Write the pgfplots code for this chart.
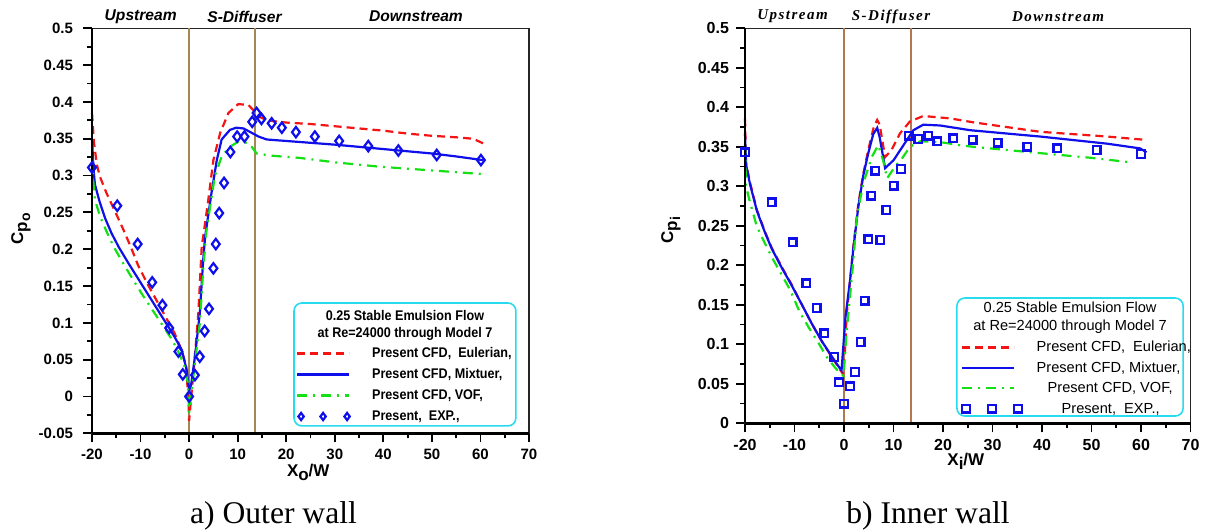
\documentclass[border=0pt]{standalone}
\usepackage{fontspec}
\setmainfont{Liberation Sans}
\newfontfamily\serifspaced[LetterSpace=10]{Liberation Serif}
\newfontfamily\seriffont{Liberation Serif}
\newfontfamily\narrowfont[FakeStretch=0.9]{Liberation Sans}
\usepackage{pgfplots}
\pgfplotsset{compat=1.18}

\definecolor{cred}{RGB}{245,20,20}
\definecolor{cblue}{RGB}{15,15,235}
\definecolor{cgreen}{RGB}{20,225,20}
\definecolor{ctanL}{RGB}{165,135,85}
\definecolor{ctanR}{RGB}{180,120,80}
\definecolor{ccyan}{RGB}{40,220,240}

\pgfplotsset{
  mybase/.style={
    scale only axis, clip=false,
    axis line style={black!85, line width=0.7pt},
    tick align=outside, tick pos=left,
    major tick length=4.5pt, minor tick length=2.5pt,
    tick style={black, line width=0.9pt},
    minor x tick num=1, minor y tick num=1,
    xmin=-20, xmax=70,
    xtick={-20,-10,...,70},
    xticklabels={-20,-10,0,10,20,30,40,50,60,70},
    legend cell align=left,
  },
  eul/.style={cred, line width=1.1pt, dash pattern=on 4pt off 2.5pt,
    legend image code/.code={\draw[##1] (0pt,0pt) -- (26pt,0pt);}},
  mix/.style={cblue, line width=1.1pt,
    legend image code/.code={\draw[##1] (0pt,0pt) -- (26pt,0pt);}},
  vof/.style={cgreen, line width=1.1pt, dash pattern=on 5pt off 3pt on 1pt off 3pt,
    legend image code/.code={\draw[##1] (0pt,0pt) -- (26pt,0pt);}},
  expL/.style={only marks, mark=diamond, mark size=2.6pt, cblue,
    mark options={line width=1.1pt, fill=none},
    legend image code/.code={\draw[##1, only marks, mark size=1.8pt] plot coordinates {(2pt,0pt) (13pt,0pt) (25pt,0pt)};}},
  expR/.style={only marks, mark=square, mark size=1.9pt, cblue,
    mark options={line width=1.2pt, fill=none},
    legend image code/.code={\draw[##1, only marks] plot coordinates {(2pt,0pt) (15pt,0pt) (28pt,0pt)};}},
}

\begin{document}
\begin{tikzpicture}
\path (0,0) rectangle (604pt,265.5pt);

% ---------------- Left: outer wall ----------------
\begin{axis}[mybase,
  at={(46pt,48.85pt)}, anchor=south west,
  width=218.5pt, height=202.5pt,
  ymin=-0.05, ymax=0.5,
  ytick={-0.05,0,0.05,0.1,0.15,0.2,0.25,0.3,0.35,0.4,0.45,0.5},
  yticklabels={-0.05,0,0.05,0.1,0.15,0.2,0.25,0.3,0.35,0.4,0.45,0.5},
  ticklabel style={font=\bfseries\fontsize{7.5}{8}\selectfont},
  yticklabel style={xshift=-1.5pt},
  legend style={at={(0.4668,0.2156)}, anchor=north west, draw=none, fill=none,
    inner sep=0pt, outer sep=0pt, row sep=3pt,
    font=\narrowfont\bfseries\fontsize{7}{8}\selectfont,
    nodes={inner sep=0pt, text height=6pt, text depth=1.5pt},
    /tikz/every odd column/.style={column sep=11pt}},
]
\draw[ccyan, line width=0.8pt, rounded corners=4pt, fill=white]
  (axis cs:21.6,-0.040) rectangle (axis cs:67.3,0.127);
\node[font=\narrowfont\bfseries\fontsize{7}{8.5}\selectfont, align=center]
  at (axis cs:44.45,0.0965) {0.25 Stable Emulsion Flow\\at Re=24000 through Model 7};

\addplot[ctanL, line width=0.9pt, forget plot] coordinates {(0,-0.05) (0,0.5)};
\addplot[ctanL, line width=0.9pt, forget plot] coordinates {(13.5,-0.05) (13.5,0.5)};

\addplot[eul] coordinates {
(-20,0.385) (-19.6,0.345) (-19,0.315) (-18.4,0.299) (-17,0.276) (-15.3,0.252)
(-13.5,0.226) (-12,0.203) (-10.5,0.178) (-8.5,0.152) (-6.5,0.128) (-4.5,0.104)
(-3,0.086) (-1.5,0.062) (-0.6,0.040) (-0.1,-0.01) (0,-0.033) (0.3,-0.01) (0.9,0.032)
(1.9,0.113) (2.6,0.204) (2.9,0.217) (3.95,0.267) (5.0,0.321) (6.4,0.358) (8.1,0.385)
(10.1,0.397) (12.2,0.396) (13.2,0.389) (14.5,0.380) (16,0.375) (20,0.372) (25,0.370)
(30,0.367) (35,0.364) (40,0.361) (45,0.357) (50,0.354) (55,0.352) (58.5,0.350) (60.8,0.343)};
\addlegendentry{Present CFD,\ \ Eulerian,}

\addplot[mix] coordinates {
(-20,0.350) (-19.7,0.310) (-19.4,0.288) (-18.5,0.266) (-17.3,0.242) (-16,0.222)
(-14.5,0.203) (-12.5,0.181) (-10.5,0.160) (-8.5,0.139) (-6.5,0.118) (-4.5,0.097)
(-3,0.081) (-1.5,0.063) (-0.5,0.036) (0,0.008) (0.4,0.015) (1.2,0.054) (2.2,0.113) (2.9,0.185)
(3.3,0.217) (4.6,0.276) (5.7,0.321) (6.7,0.349) (8.4,0.362) (9.7,0.365) (11.2,0.364)
(12.9,0.358) (14.3,0.353) (16,0.349) (20,0.347) (30,0.342) (40,0.336) (50,0.330)
(55,0.326) (60.5,0.321)};
\addlegendentry{Present CFD, Mixtuer,}

\addplot[vof] coordinates {
(-20,0.326) (-19.7,0.290) (-19.4,0.267) (-18.3,0.244) (-17,0.224) (-15.5,0.203)
(-13.5,0.180) (-11.5,0.158) (-9.5,0.137) (-7.5,0.117) (-5.5,0.097) (-3.5,0.077)
(-2,0.058) (-1,0.042) (-0.3,0.020) (0,-0.022) (0.2,-0.010) (1.2,0.045) (2.2,0.099) (2.9,0.172)
(3.6,0.227) (5.3,0.299) (6.7,0.326) (8.4,0.339) (10.1,0.346) (12.2,0.344) (12.9,0.339)
(13.9,0.330) (17,0.327) (22.8,0.324) (30,0.318) (39.3,0.312) (50,0.307) (60.5,0.302)};
\addlegendentry{Present CFD, VOF,}

\addplot[expL] coordinates {
(-20,0.311) (-14.8,0.259) (-10.6,0.207) (-7.6,0.155) (-5.5,0.124) (-4.1,0.093)
(-2.2,0.061) (-1.3,0.030) (0,0) (1.2,0.029) (2.2,0.054) (3.2,0.089) (4.1,0.119)
(5.0,0.174) (5.5,0.207) (6.2,0.249) (7.2,0.290) (8.5,0.332) (9.9,0.353) (11.4,0.353)
(13.0,0.373) (13.9,0.385) (14.9,0.377) (17.0,0.371) (19.1,0.365) (22.0,0.359)
(25.9,0.353) (30.9,0.347) (36.9,0.340) (43.1,0.334) (51.0,0.328) (60.1,0.321)};
\addlegendentry{Present,\ \ EXP.,}

\draw[black, line width=1.3pt] (rel axis cs:0,0) -- (rel axis cs:0,1);
\draw[black, line width=1.3pt] (rel axis cs:0,0) -- (rel axis cs:1,0);
\end{axis}

% ---------------- Right: inner wall ----------------
\begin{axis}[mybase,
  at={(372.5pt,53.85pt)}, anchor=south west,
  width=222.8pt, height=197.5pt,
  ymin=0, ymax=0.5,
  ytick={0,0.05,0.1,0.15,0.2,0.25,0.3,0.35,0.4,0.45,0.5},
  yticklabels={0,0.05,0.1,0.15,0.2,0.25,0.3,0.35,0.4,0.45,0.5},
  ticklabel style={font=\bfseries\fontsize{8}{9}\selectfont},
  legend style={at={(0.4843,0.2109)}, anchor=north west, draw=none, fill=none,
    inner sep=0pt, outer sep=0pt, row sep=2.7pt,
    font=\fontsize{7.3}{8}\selectfont,
    nodes={inner sep=0pt, text height=6pt, text depth=1.5pt},
    /tikz/every odd column/.style={column sep=7.5pt}},
]
\draw[ccyan, line width=0.8pt, rounded corners=4pt, fill=white]
  (axis cs:22.8,0.0092) rectangle (axis cs:68.5,0.1586);
\node[font=\fontsize{7.3}{9}\selectfont, align=center]
  at (axis cs:45.66,0.1334) {0.25 Stable Emulsion Flow\\at Re=24000 through Model 7};

\addplot[ctanR, line width=0.9pt, forget plot] coordinates {(0,0) (0,0.5)};
\addplot[ctanR, line width=0.9pt, forget plot] coordinates {(13.5,0) (13.5,0.5)};

\addplot[eul] coordinates {
(-20,0.386) (-19.8,0.330) (-19,0.305) (-17.6,0.270) (-16,0.243) (-14.6,0.222)
(-12.5,0.197) (-10.7,0.177) (-8.5,0.150) (-6.5,0.126) (-4.5,0.104) (-2.5,0.084)
(-1,0.070) (-0.2,0.062) (0.2,0.093) (0.5,0.135) (1.2,0.180) (1.9,0.225) (2.9,0.278)
(3.9,0.316) (4.9,0.346) (6.0,0.375) (6.7,0.384) (7.2,0.378) (7.6,0.363) (8.3,0.337)
(9.6,0.346) (11.3,0.367) (13.3,0.382) (16,0.389) (21.4,0.386) (26.1,0.381)
(39.6,0.369) (53.1,0.363) (60.5,0.359)};
\addlegendentry{Present CFD,\ \ Eulerian,}

\addplot[mix] coordinates {
(-20,0.367) (-19.8,0.328) (-19,0.303) (-17.6,0.269) (-16,0.242) (-14.6,0.221)
(-12.5,0.196) (-10.7,0.176) (-8.5,0.150) (-6.5,0.126) (-4.5,0.104) (-2.5,0.085)
(-1,0.071) (-0.5,0.067) (0.3,0.135) (1.2,0.180) (1.9,0.222) (2.9,0.275)
(3.9,0.314) (4.9,0.342) (5.9,0.366) (6.7,0.374) (7.2,0.362) (8.3,0.323)
(10.0,0.333) (12.0,0.352) (14.0,0.371) (16,0.378) (19.4,0.377) (25.5,0.371)
(39.6,0.363) (53.1,0.354) (59.8,0.348) (61.1,0.343)};
\addlegendentry{Present CFD, Mixtuer,}

\addplot[vof] coordinates {
(-20,0.354) (-19.8,0.300) (-19,0.280) (-17.6,0.249) (-16,0.228) (-14.3,0.207)
(-12.5,0.187) (-10.9,0.169) (-8.9,0.140) (-7,0.120) (-5,0.100) (-3.5,0.084)
(-2,0.072) (-0.8,0.063) (-0.1,0.060) (0.5,0.114) (1.2,0.160) (1.9,0.207) (2.6,0.262)
(3.9,0.304) (5.6,0.337) (6.9,0.352) (7.9,0.333) (8.7,0.310) (10.3,0.325) (11.7,0.335)
(13.3,0.350) (15.4,0.357) (19.4,0.356) (23.4,0.352) (26.1,0.350) (39.6,0.342)
(50,0.336) (58.4,0.330)};
\addlegendentry{\hspace*{5.5pt}Present CFD, VOF,}

\addplot[expR] coordinates {
(-20,0.343) (-14.6,0.280) (-10.4,0.229) (-7.6,0.177) (-5.5,0.146) (-4.0,0.114)
(-2.0,0.084) (-1.0,0.052) (0,0.025) (1.2,0.047) (2.2,0.065) (3.4,0.103) (4.2,0.155)
(4.9,0.233) (5.5,0.288) (6.3,0.320) (7.3,0.232) (8.5,0.270) (10.0,0.301) (11.5,0.322)
(13.1,0.364) (15.0,0.360) (17.0,0.364) (18.8,0.357) (22.1,0.361) (26.0,0.359)
(31.0,0.355) (37.0,0.350) (43.1,0.348) (51.0,0.346) (60.0,0.341)};
\addlegendentry{\hspace*{12.5pt}Present,\ \ EXP.,}

\draw[black, line width=1.3pt] (rel axis cs:0,0) -- (rel axis cs:0,1);
\draw[black, line width=1.3pt] (rel axis cs:0,0) -- (rel axis cs:1,0);
\end{axis}

% ---------------- Labels ----------------
\node[font=\bfseries\itshape\fontsize{7.8}{9}\selectfont] at (70.35pt,257.2pt) {Upstream};
\node[font=\bfseries\itshape\fontsize{7.8}{9}\selectfont] at (122.25pt,257.2pt) {S-Diffuser};
\node[font=\bfseries\itshape\fontsize{7.8}{9}\selectfont] at (208pt,257.2pt) {Downstream};

\node[font=\serifspaced\bfseries\itshape\fontsize{7.5}{9}\selectfont] at (396.25pt,257.2pt) {Upstream};
\node[font=\serifspaced\bfseries\itshape\fontsize{7.5}{9}\selectfont] at (445.5pt,257.2pt) {S-Diffuser};
\node[font=\serifspaced\bfseries\itshape\fontsize{7.5}{9}\selectfont] at (529pt,257.2pt) {Downstream};

\node[anchor=base west, inner sep=0pt, font=\bfseries\fontsize{8.5}{10}\selectfont]
  at (143.3pt,27.2pt) {X\raisebox{-2pt}{o}/W};
\node[anchor=base west, inner sep=0pt, font=\bfseries\fontsize{8.5}{10}\selectfont]
  at (473.5pt,33pt) {X\raisebox{-2pt}{i}/W};

\node[rotate=90, inner sep=0pt, font=\bfseries\fontsize{8.5}{10}\selectfont]
  at (10.5pt,151pt) {C\raisebox{-2pt}{p\raisebox{-1.5pt}{\scriptsize o}}};
\node[rotate=90, inner sep=0pt, font=\bfseries\fontsize{8.5}{10}\selectfont]
  at (335.5pt,150.5pt) {C\raisebox{-2pt}{p\raisebox{-1.5pt}{\scriptsize i}}};

\node[anchor=base, inner sep=0pt, font=\seriffont\fontsize{15.8}{18}\selectfont]
  at (136.75pt,4pt) {a) Outer wall};
\node[anchor=base, inner sep=0pt, font=\seriffont\fontsize{15.8}{18}\selectfont]
  at (464pt,4pt) {b) Inner wall};
\end{tikzpicture}
\end{document}
